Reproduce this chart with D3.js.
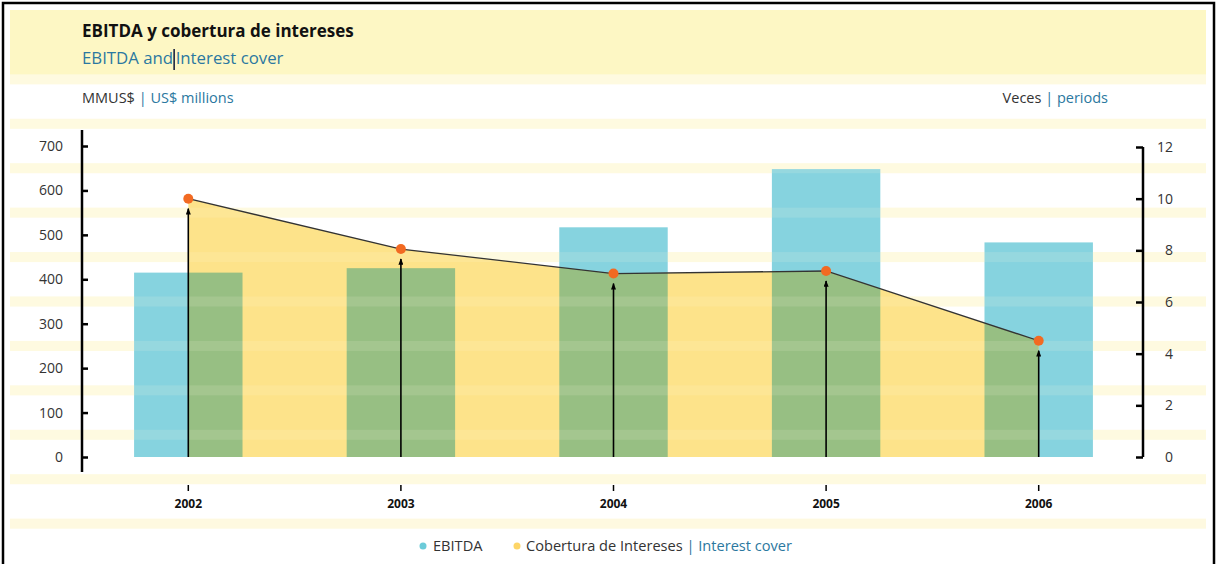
<!DOCTYPE html>
<html>
<head>
<meta charset="utf-8">
<script src="https://cdn.jsdelivr.net/npm/d3@7"></script>
<style>
  body { margin: 0; background: #fff; }
  svg { display: block; font-family: "Open Sans", sans-serif; }
  .axis text { font-family: "Open Sans", sans-serif; font-size: 14px; fill: #333; }
  .axis line { stroke: #000; stroke-width: 2.5; }
  .xaxis text { font-family: "Open Sans", sans-serif; font-size: 12px; font-weight: bold; fill: #111; }
  .xaxis line { stroke: #000; stroke-width: 1.5; }
</style>
</head>
<body>
<div id="chart"></div>
<script>
  const years = ['2002', '2003', '2004', '2005', '2006'];
  const ebitda = [415, 425, 517, 648, 483];
  const cover = [10.0, 8.05, 7.1, 7.2, 4.5];
  const leftTicks = [0, 100, 200, 300, 400, 500, 600, 700];
  const rightTicks = [0, 2, 4, 6, 8, 10, 12];

  const W = 1217, H = 564;
  const blue = '#86d3df', yellow = '#fde38a', green = '#97bf83', orange = '#f26a22';
  const teal = '#2b78a0';

  const svg = d3.select('#chart').append('svg')
    .attr('width', W)
    .attr('height', H);

  const x = d3.scaleBand()
    .domain(years)
    .range([82, 1145])
    .paddingInner(0.49)
    .paddingOuter(0.245);
  const cx = d => x(d) + x.bandwidth() / 2;

  const yL = d3.scaleLinear().domain([0, 700]).range([457, 146]);
  const yR = d3.scaleLinear().domain([0, 12]).range([457, 147]);

  // header band and background stripes
  svg.append('rect')
    .attr('x', 10).attr('y', 10)
    .attr('width', 1196).attr('height', 65)
    .attr('fill', '#fdf7c4');

  const stripeAt = d3.range(-150, 900, 100);
  const stripes = g => g.selectAll('rect')
    .data(stripeAt)
    .join('rect')
    .attr('x', 10)
    .attr('y', d => yL(d) - 5)
    .attr('width', 1196)
    .attr('height', 10);
  svg.append('g').attr('fill', '#fefae0').call(stripes);

  // bars
  svg.append('g')
    .selectAll('rect')
    .data(years)
    .join('rect')
    .attr('x', d => x(d))
    .attr('y', (d, i) => yL(ebitda[i]))
    .attr('width', x.bandwidth())
    .attr('height', (d, i) => yL(0) - yL(ebitda[i]))
    .attr('fill', blue);

  // interest cover area
  const area = d3.area()
    .x((d, i) => cx(years[i]))
    .y0(yR(0))
    .y1(d => yR(d));

  const areaPath = area(cover);

  const defs = svg.append('defs');
  defs.append('clipPath')
    .attr('id', 'cover-clip')
    .append('path')
    .attr('d', areaPath);

  svg.append('path')
    .attr('d', areaPath)
    .attr('fill', yellow);

  // overlap of bars and area
  svg.append('g')
    .attr('clip-path', 'url(#cover-clip)')
    .selectAll('rect')
    .data(years)
    .join('rect')
    .attr('x', d => x(d))
    .attr('y', (d, i) => yL(ebitda[i]))
    .attr('width', x.bandwidth())
    .attr('height', (d, i) => yL(0) - yL(ebitda[i]))
    .attr('fill', green);

  // stripes over the marks, faint
  svg.append('g').attr('fill', '#fffbe0').attr('opacity', 0.13).call(stripes);

  // line
  const line = d3.line()
    .x((d, i) => cx(years[i]))
    .y(d => yR(d));

  svg.append('path')
    .attr('d', line(cover))
    .attr('fill', 'none')
    .attr('stroke', '#333')
    .attr('stroke-width', 1.3);

  // arrows
  defs.append('marker')
    .attr('id', 'arrow')
    .attr('viewBox', '0 0 8 6')
    .attr('refX', 7).attr('refY', 3)
    .attr('markerWidth', 7).attr('markerHeight', 5)
    .attr('markerUnits', 'userSpaceOnUse')
    .attr('orient', 'auto')
    .append('path')
    .attr('d', 'M0,0L8,3L0,6Z')
    .attr('fill', '#000');

  svg.append('g')
    .selectAll('line')
    .data(cover)
    .join('line')
    .attr('x1', (d, i) => cx(years[i]))
    .attr('x2', (d, i) => cx(years[i]))
    .attr('y1', yR(0))
    .attr('y2', d => yR(d) + 10)
    .attr('stroke', '#000')
    .attr('stroke-width', 1.6)
    .attr('marker-end', 'url(#arrow)');

  svg.append('g')
    .selectAll('circle')
    .data(cover)
    .join('circle')
    .attr('cx', (d, i) => cx(years[i]))
    .attr('cy', d => yR(d))
    .attr('r', 5)
    .attr('fill', orange);

  // left axis
  const gl = svg.append('g')
    .attr('class', 'axis')
    .attr('transform', 'translate(82,0)')
    .call(d3.axisLeft(yL).tickValues(leftTicks).tickSizeInner(-6).tickSizeOuter(0).tickPadding(19));
  gl.select('.domain').remove();
  gl.append('line')
    .attr('y1', yL.range()[1] - 16)
    .attr('y2', yL.range()[0] + 15)
    .attr('stroke-width', 1.6);

  // right axis
  const gr = svg.append('g')
    .attr('class', 'axis')
    .attr('transform', 'translate(1143,0)')
    .call(d3.axisRight(yR).tickValues(rightTicks).tickSizeInner(-7).tickSizeOuter(0));
  gr.select('.domain').remove();
  gr.selectAll('text').attr('x', 30).attr('text-anchor', 'end');
  gr.append('line')
    .attr('y1', yR.range()[1])
    .attr('y2', yR.range()[0])
    .attr('stroke-width', 1.6);

  // x axis
  const gx = svg.append('g')
    .attr('class', 'xaxis')
    .attr('transform', 'translate(0,485)')
    .call(d3.axisBottom(x).tickSizeInner(6).tickSizeOuter(0).tickPadding(8));
  gx.select('.domain').remove();

  // titles
  svg.append('text')
    .attr('x', 82).attr('y', 37)
    .attr('font-size', 17).attr('font-weight', 'bold').attr('fill', '#111')
    .text('EBITDA y cobertura de intereses');

  const sub1 = svg.append('text')
    .attr('x', 82).attr('y', 64)
    .attr('font-size', 16.8).attr('fill', teal)
    .text('EBITDA and');
  const subW = sub1.node().getComputedTextLength();
  svg.append('line')
    .attr('x1', 82 + subW + 1).attr('x2', 82 + subW + 1)
    .attr('y1', 49).attr('y2', 70)
    .attr('stroke', '#1a2340').attr('stroke-width', 1.6);
  svg.append('text')
    .attr('x', 82 + subW + 2.5).attr('y', 64)
    .attr('font-size', 16.8).attr('fill', teal)
    .text('Interest cover');

  const units = svg.append('text')
    .attr('x', 82).attr('y', 103)
    .attr('font-size', 14.5);
  units.append('tspan').attr('fill', '#333').text('MMUS$ ');
  units.append('tspan').attr('fill', teal).text('| US$ millions');

  const veces = svg.append('text')
    .attr('x', 1108).attr('y', 103)
    .attr('font-size', 14.5)
    .attr('text-anchor', 'end');
  veces.append('tspan').attr('fill', '#333').text('Veces ');
  veces.append('tspan').attr('fill', teal).text(' | periods');

  // legend
  const legend = svg.append('g').attr('font-size', 14.6);
  legend.append('circle').attr('cx', 423).attr('cy', 546).attr('r', 3.5).attr('fill', '#6ccbd9');
  legend.append('text').attr('x', 433).attr('y', 551).attr('fill', '#333').text('EBITDA');
  legend.append('circle').attr('cx', 517).attr('cy', 546).attr('r', 3.5).attr('fill', '#fdd567');
  const lt = legend.append('text').attr('x', 526).attr('y', 551);
  lt.append('tspan').attr('fill', '#333').text('Cobertura de Intereses ');
  lt.append('tspan').attr('fill', teal).text('| Interest cover');

  // frame
  svg.append('rect')
    .attr('x', 3).attr('y', 3)
    .attr('width', 1211).attr('height', H + 10)
    .attr('fill', 'none')
    .attr('stroke', '#000')
    .attr('stroke-width', 2.5);
</script>
</body>
</html>
